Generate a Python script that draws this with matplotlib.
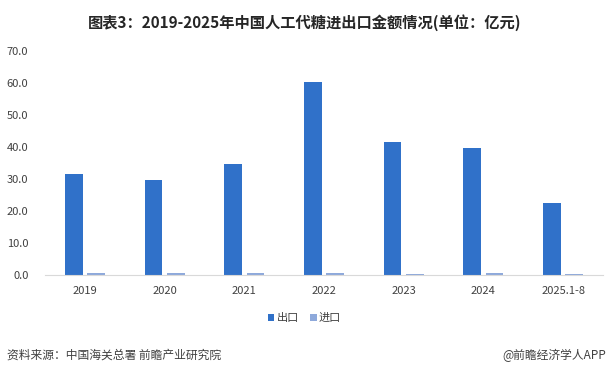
import matplotlib.pyplot as plt
import numpy as np

plt.rcParams['font.family'] = ['Noto Sans CJK SC', 'DejaVu Sans']

years = ['2019', '2020', '2021', '2022', '2023', '2024', '2025.1-8']
export = [31.6, 29.7, 34.7, 60.3, 41.6, 39.7, 22.5]
imports = [0.7, 0.6, 0.5, 0.6, 0.3, 0.6, 0.3]

fig = plt.figure(figsize=(6.09, 3.81), dpi=100)
ax = fig.add_axes([0.074, 0.278, 0.916, 0.588])

x = np.arange(len(years))
w = 0.22
ax.bar(x - 0.14, export, w, color='#3071C9', label='出口')
ax.bar(x + 0.14, imports, w, color='#8EA9DB', label='进口')

ax.set_xlim(-0.5, len(years) - 0.5)
ax.set_ylim(0, 70)
ax.set_yticks(np.arange(0, 71, 10))
ax.set_yticklabels(['%.1f' % v for v in np.arange(0, 71, 10)])
ax.set_xticks(x)
ax.set_xticklabels(years)
ax.tick_params(axis='both', length=0, labelsize=8, colors='#404040')
ax.tick_params(axis='x', pad=8)
ax.tick_params(axis='y', pad=12)
for s in ['top', 'right', 'left']:
    ax.spines[s].set_visible(False)
ax.spines['bottom'].set_color('#D9D9D9')

fig.text(0.5, 0.942, '图表3：2019-2025年中国人工代糖进出口金额情况(单位：亿元)',
         ha='center', va='center', fontsize=11, fontweight='bold', color='#262626')
fig.legend(loc='center', bbox_to_anchor=(0.5, 0.165), ncol=2, frameon=False,
           fontsize=8, handlelength=0.6, handleheight=0.6, handletextpad=0.2,
           columnspacing=1.0, labelcolor='#404040')
fig.text(0.012, 0.068, '资料来源：中国海关总署 前瞻产业研究院', ha='left', va='center',
         fontsize=8.5, color='#404040')
fig.text(0.995, 0.068, '@前瞻经济学人APP', ha='right', va='center',
         fontsize=8.5, color='#404040')

fig.savefig('out.png', dpi=100)
